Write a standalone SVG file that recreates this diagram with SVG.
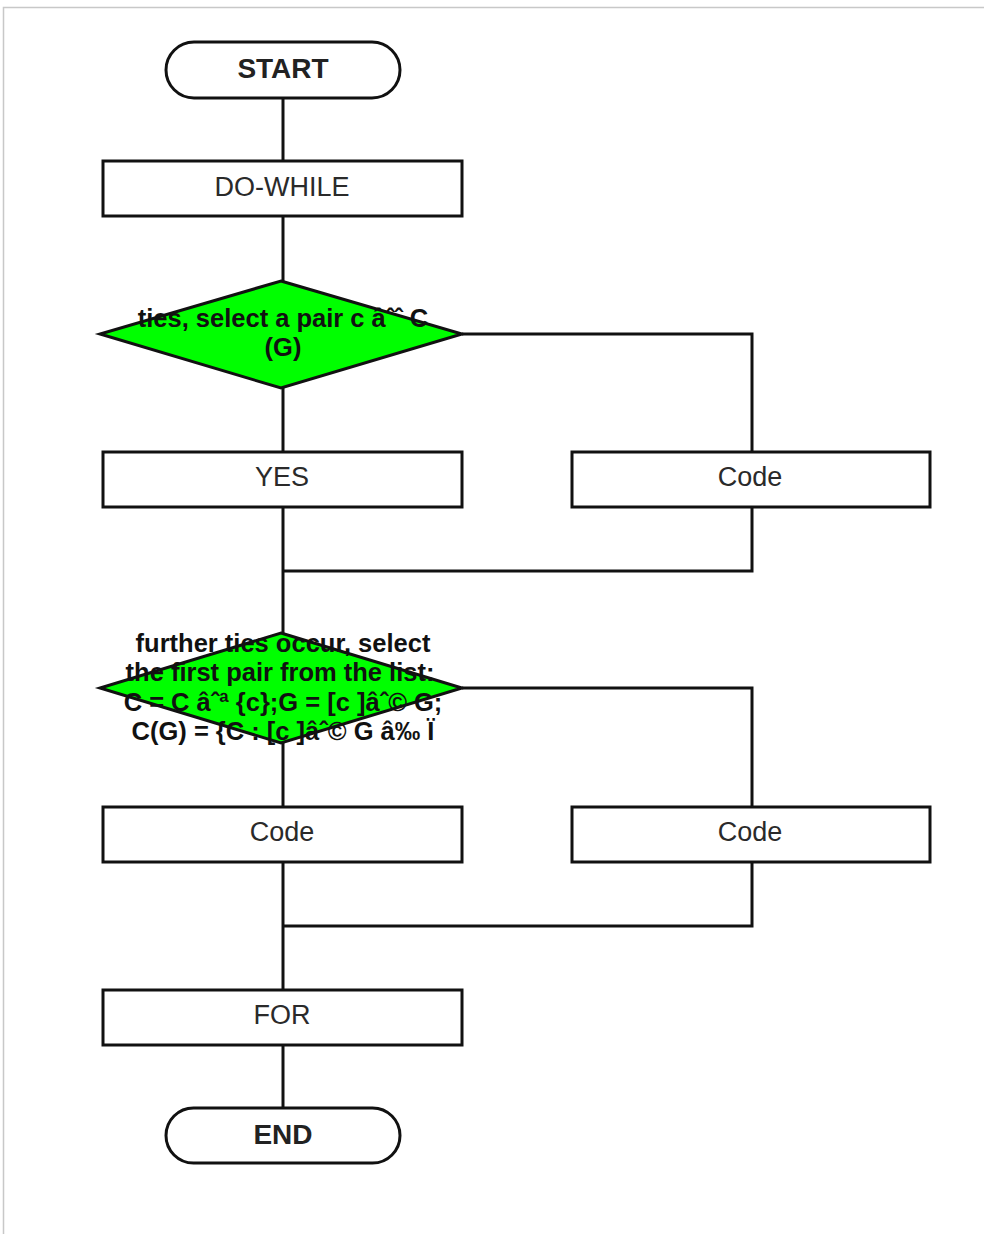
<svg xmlns="http://www.w3.org/2000/svg" width="984" height="1234" viewBox="0 0 984 1234">
<style>
.box{fill:#fff;stroke:#111;stroke-width:3}
.term{fill:#fff;stroke:#111;stroke-width:3}
.dia{fill:#00ff00;stroke:#111;stroke-width:3}
.conn{fill:none;stroke:#111;stroke-width:3}
.lbl{font-family:"Liberation Sans",Arial,sans-serif;font-size:27px;fill:#2a2a2a;text-anchor:middle;dominant-baseline:central}
.tlbl{font-family:"Liberation Sans",Arial,sans-serif;font-size:28px;font-weight:bold;fill:#222;text-anchor:middle;dominant-baseline:central}
.dlbl{font-family:"Liberation Sans",Arial,sans-serif;font-size:25.5px;font-weight:bold;fill:#111;text-anchor:middle;dominant-baseline:central}
</style>
<rect x="0" y="0" width="984" height="1234" fill="#fff"/>
<path d="M3.5 1234 V7.5 H984" fill="none" stroke="#c8c8c8" stroke-width="1.5"/>
<g id="connectors">
<path class="conn" d="M283 98 V161"/>
<path class="conn" d="M283 216 V281"/>
<path class="conn" d="M283 388 V452"/>
<path class="conn" d="M462 334 H752 V452"/>
<path class="conn" d="M283 507 V633"/>
<path class="conn" d="M752 507 V571 H283"/>
<path class="conn" d="M283 743 V807"/>
<path class="conn" d="M462 688 H752 V807"/>
<path class="conn" d="M283 862 V990"/>
<path class="conn" d="M752 862 V926 H283"/>
<path class="conn" d="M283 1045 V1108"/>
</g>
<g id="start">
<rect class="term" x="166" y="42" width="234" height="56" rx="28"/>
<text class="tlbl" x="283" y="68">START</text>
</g>
<g id="dowhile">
<rect class="box" x="103" y="161" width="359" height="55"/>
<text class="lbl" x="282" y="187">DO-WHILE</text>
</g>
<g id="decision1">
<polygon class="dia" points="281,281 462,334 281,388 100,334"/>
<text class="dlbl" x="283" y="318">ties, select a pair c âˆˆ C</text>
<text class="dlbl" x="283" y="347">(G)</text>
</g>
<g id="yes">
<rect class="box" x="103" y="452" width="359" height="55"/>
<text class="lbl" x="282" y="477">YES</text>
</g>
<g id="code1">
<rect class="box" x="572" y="452" width="358" height="55"/>
<text class="lbl" x="750" y="477">Code</text>
</g>
<g id="decision2">
<polygon class="dia" points="281,633 462,688 281,743 100,688"/>
<text class="dlbl" x="283" y="643">further ties occur, select</text>
<text class="dlbl" x="280" y="672">the first pair from the list:</text>
<text class="dlbl" x="283" y="702">C = C âˆª {c};G = [c ]âˆ© G;</text>
<text class="dlbl" x="283" y="731">C(G) = {C : [c ]âˆ© G â‰  Ï</text>
</g>
<g id="code2">
<rect class="box" x="103" y="807" width="359" height="55"/>
<text class="lbl" x="282" y="832">Code</text>
</g>
<g id="code3">
<rect class="box" x="572" y="807" width="358" height="55"/>
<text class="lbl" x="750" y="832">Code</text>
</g>
<g id="for">
<rect class="box" x="103" y="990" width="359" height="55"/>
<text class="lbl" x="282" y="1015">FOR</text>
</g>
<g id="end">
<rect class="term" x="166" y="1108" width="234" height="55" rx="27.5"/>
<text class="tlbl" x="283" y="1134">END</text>
</g>
</svg>
